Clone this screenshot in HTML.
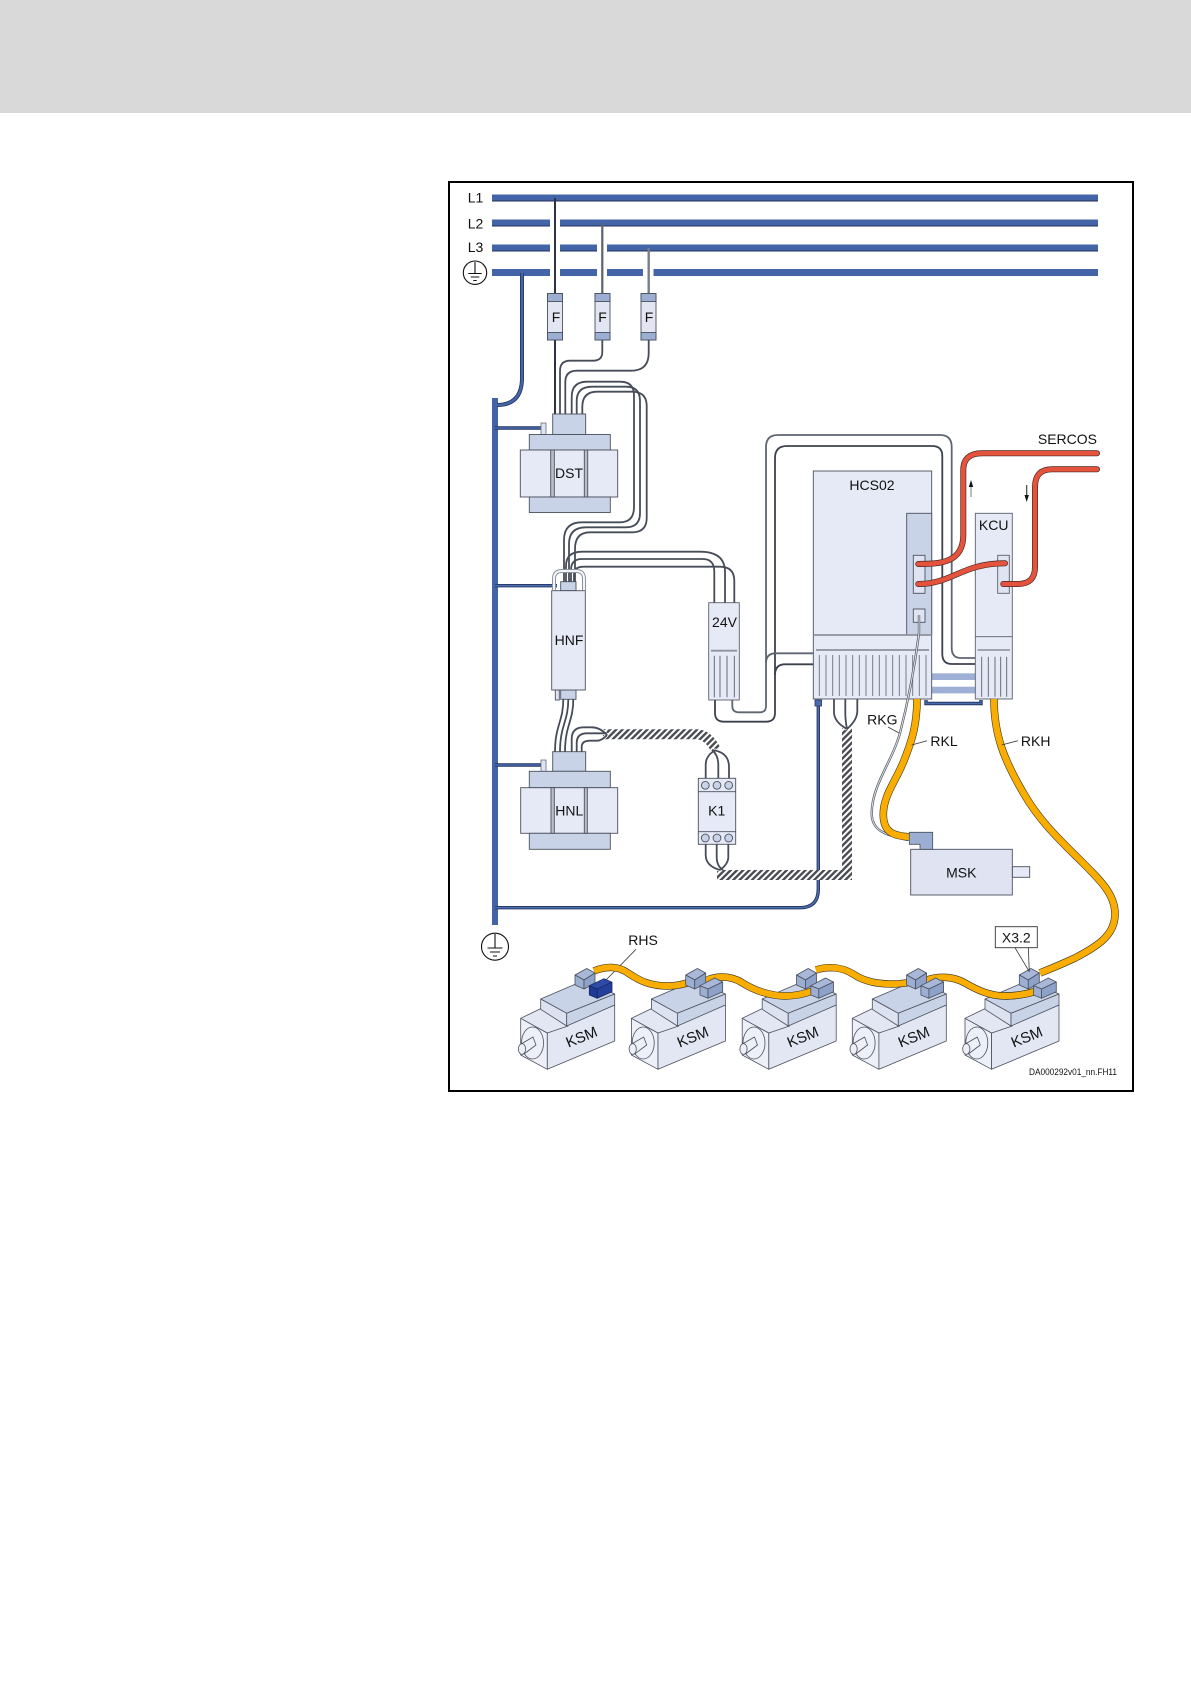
<!DOCTYPE html>
<html><head><meta charset="utf-8"><style>
html,body{margin:0;padding:0;background:#fff}
svg{display:block}
text{font-family:"Liberation Sans",sans-serif;font-size:14px;fill:#111}
.c{text-anchor:middle;dominant-baseline:central}
</style></head><body>
<svg width="1191" height="1684" viewBox="0 0 1191 1684" xmlns="http://www.w3.org/2000/svg">
<defs>
<pattern id="h" width="4.4" height="4.4" patternUnits="userSpaceOnUse" patternTransform="rotate(45)">
<rect width="4.4" height="4.4" fill="#fff"/><rect width="2.4" height="4.4" fill="#4a4d52"/>
</pattern>
<g id="motor" stroke="#4a505c" stroke-width=".8" stroke-linejoin="round">
<polygon points="40.7,98.3 67.3,113 67.3,149.3 40.7,135" fill="#eef0f9"/>
<polygon points="67.3,113 134.7,85 134.7,121 67.3,149.3" fill="#e3e7f4"/>
<polygon points="40.7,98.3 62,88 88,106 67.3,113" fill="#e3e7f4"/>
<ellipse cx="52.5" cy="123" rx="11" ry="16" fill="none"/>
<polygon points="41,124 53,117 56,125 44,134" fill="#eef0f9"/>
<ellipse cx="42" cy="129" rx="3.6" ry="5.4" fill="#eef0f9"/>
<polygon points="60.7,79 105,60 134.7,74 86.7,93.3" fill="#c9d3e8"/>
<polygon points="60.7,79 86.7,93.3 86.7,106 60.7,89.3" fill="#dde2f1"/>
<polygon points="86.7,93.3 134.7,74 134.7,85 86.7,106" fill="#c9d3e8"/>
</g>
<g id="blkA" stroke="#4a505c" stroke-width=".8" stroke-linejoin="round">
<polygon points="95,55 106.7,48.5 115,53 104,60" fill="#a9b7d8"/>
<polygon points="95,55 104,60 104,69 95,65" fill="#9caed2"/>
<polygon points="104,60 115,53 115,63.3 104,69" fill="#8ea1c9"/>
</g>
<g id="blkB" stroke="#4a505c" stroke-width=".8" stroke-linejoin="round">
<polygon points="109.3,65.7 124,58 132,62 117.3,69" fill="#a9b7d8"/>
<polygon points="109.3,65.7 117.3,69 117.3,78.3 109.3,75" fill="#9caed2"/>
<polygon points="117.3,69 132,62 132,71.7 117.3,78.3" fill="#8ea1c9"/>
</g>
<g id="wires" fill="none" stroke-linejoin="round">
<path d="M602.3 340V352Q602.3 360.7 593 360.7H570Q560 360.7 560 371V414"/>
<path d="M648.7 340V353Q648.7 370.7 631 370.7H577Q565.3 370.7 565.3 382V414"/>
<path d="M571.7 414V397Q571.7 381.7 587 381.7H620Q634 381.7 634 395V507Q634 522.3 620 522.3H582Q564 522.3 564 540V582"/>
<path d="M576.7 414V401Q576.7 386.7 592 386.7H626Q640 386.7 640 401V513Q640 527.3 626 527.3H586Q569 527.3 569 544V582"/>
<path d="M582.3 414V407Q582.3 391.7 597 391.7H632Q646.7 391.7 646.7 406V518Q646.7 532.3 632 532.3H590Q575 532.3 575 549V582"/>
<path d="M566 582V566Q566 551.7 582 551.7H700Q725 551.7 725 572V602.7"/>
<path d="M571 582V570Q571 559 582 559H703Q714.3 559 714.3 572V602.7"/>
<path d="M574 582V574Q574 566.7 584 566.7H720Q734.3 566.7 734.3 581V602.7"/>
<path d="M563.3 699C563.3 722 555 725 555 752"/>
<path d="M568.3 699C568.3 722 560 725 560 752"/>
<path d="M573.3 699C573.3 722 565 725 565 752"/>
<path d="M571.7 752V739Q571.7 727.3 584 727.3H592Q600 727.3 607 735"/>
<path d="M576.7 752V743Q576.7 733.3 587 733.3H607"/>
<path d="M581.7 752V747Q581.7 740.7 590 740.7H597Q602 740.7 607 735"/>
<path d="M705.7 778V765Q705.7 755 716 750"/>
<path d="M718.3 778V765Q718.3 755 712 750"/>
<path d="M729 778V767Q729 752 712 750"/>
<path d="M705.7 844V855Q705.7 866 720 870"/>
<path d="M716.7 844V857Q716.7 866 723 870"/>
<path d="M728.3 844V857Q728.3 864 720 870"/>
<path d="M834 699V712Q834 722 847 729"/>
<path d="M845.3 699V713Q845.3 720 847 729"/>
<path d="M857.3 699V711Q857.3 720 847 729"/>
</g>
</defs>

<rect width="1191" height="1684" fill="#fff"/>
<rect width="1191" height="113" fill="#d9d9d9"/>
<rect x="449" y="182" width="684" height="909" fill="#fff" stroke="#000" stroke-width="2"/>

<!-- busbars -->
<g fill="#4464a8">
<rect x="492" y="194.500" width="606" height="7"/>
<rect x="492" y="219.500" width="58" height="7"/><rect x="560" y="219.500" width="538" height="7"/>
<rect x="492" y="244.500" width="58" height="7"/><rect x="560" y="244.500" width="37" height="7"/><rect x="607" y="244.500" width="491" height="7"/>
<rect x="492" y="269" width="58" height="7"/><rect x="560" y="269" width="37" height="7"/><rect x="607" y="269" width="36" height="7"/><rect x="653.500" y="269" width="444.500" height="7"/>
</g>
<g fill="#1f2f5c">
<rect x="492" y="200.500" width="606" height="1"/>
<rect x="492" y="225.500" width="58" height="1"/><rect x="560" y="225.500" width="538" height="1"/>
<rect x="492" y="250.500" width="58" height="1"/><rect x="560" y="250.500" width="37" height="1"/><rect x="607" y="250.500" width="491" height="1"/>
</g>
<text x="475.500" y="197.500" class="c">L1</text>
<text x="475.500" y="223.500" class="c">L2</text>
<text x="475.500" y="247" class="c">L3</text>

<!-- ground symbols -->
<g fill="none" stroke="#111" stroke-width="1.100">
<circle cx="475" cy="272.700" r="11.700"/>
<path d="M475 262V273.500M468.300 273.500H481.700M470.700 277H479.300M473.300 280.500H476.700"/>
<circle cx="495" cy="946.700" r="13.500"/>
<path d="M495 934V948M487.500 948H502.500M490 952H500M493 956H497"/>
</g>

<!-- drops -->
<path d="M555 198V293" stroke="#2d3340" stroke-width="2"/>
<path d="M602.300 223V293" stroke="#5a6270" stroke-width="2.200"/>
<path d="M648.700 248V293" stroke="#777e8a" stroke-width="2.400"/>
<path d="M555 340V414" stroke="#2d3340" stroke-width="2"/>

<!-- PE bus -->
<rect x="492" y="398" width="6" height="527" fill="#4464a8"/>
<path d="M522 273V378Q522 405 497 405" fill="none" stroke="#24345f" stroke-width="4"/>
<path d="M522 273V378Q522 405 497 405" fill="none" stroke="#4464a8" stroke-width="2.400"/>
<g fill="none" stroke="#24345f" stroke-width="3.400">
<path d="M495 428H543"/><path d="M495 585.700H557"/><path d="M495 765H543"/>
<path d="M495 907.700H800Q818.300 907.700 818.300 889V702"/>
</g>
<g fill="none" stroke="#4a6cb0" stroke-width="1.600">
<path d="M495 428H543"/><path d="M495 585.700H557"/><path d="M495 765H543"/>
<path d="M495 907.700H800Q818.300 907.700 818.300 889V702"/>
</g>
<path d="M815 706V700H821.500V706Z" fill="#4a6cb0" stroke="#24345f" stroke-width=".8"/>
<g fill="#dfe3f2" stroke="#666c78" stroke-width=".8">
<rect x="541" y="423" width="5" height="11.500"/>
<rect x="541" y="760" width="5" height="11.500"/>
</g>

<!-- hatch cable -->
<path d="M603 734.300H696Q708 734.300 716 750" fill="none" stroke="url(#h)" stroke-width="10"/>
<path d="M717 875H847V728" fill="none" stroke="url(#h)" stroke-width="10"/>

<!-- wires -->
<use href="#wires" stroke="#fff" stroke-width="3.400"/>
<use href="#wires" stroke="#474d58" stroke-width="1.800"/>

<!-- 24V outputs and loops -->
<g fill="none" stroke="#fff" stroke-width="4">
<path d="M715 700V713Q715 721.700 724 721.700H766Q775 721.700 775 713V458Q775 446 787 446H932Q942.300 446 942.300 456V654Q942.300 664 952 664H975"/>
<path d="M732.300 700V706Q732.300 712.300 739 712.300H760Q766 712.300 766 706V447Q766 435 778 435H940Q951.700 435 951.700 447V648Q951.700 658 961 658H975"/>
</g>
<g fill="none" stroke-width="1.800">
<path d="M715 700V713Q715 721.700 724 721.700H766Q775 721.700 775 713V458Q775 446 787 446H932Q942.300 446 942.300 456V654Q942.300 664 952 664H975" stroke="#3c424d"/>
<path d="M732.300 700V706Q732.300 712.300 739 712.300H760Q766 712.300 766 706V447Q766 435 778 435H940Q951.700 435 951.700 447V648Q951.700 658 961 658H975" stroke="#5f6672"/>
<path d="M775 675Q775 664.300 785 664.300H813.300" stroke="#3c424d"/>
<path d="M766 663Q766 653.300 776 653.300H813.300" stroke="#5f6672"/>
</g>

<!-- fuses -->
<g stroke="#4a505c" stroke-width=".9">
<rect x="547.500" y="293.500" width="15" height="46.500" fill="#e3e6f2"/><rect x="547.500" y="293.500" width="15" height="8" fill="#9caed2"/><rect x="547.500" y="332.500" width="15" height="7.500" fill="#9caed2"/>
<rect x="595" y="293.500" width="15" height="46.500" fill="#e3e6f2"/><rect x="595" y="293.500" width="15" height="8" fill="#9caed2"/><rect x="595" y="332.500" width="15" height="7.500" fill="#9caed2"/>
<rect x="641" y="293.500" width="15" height="46.500" fill="#e3e6f2"/><rect x="641" y="293.500" width="15" height="8" fill="#9caed2"/><rect x="641" y="332.500" width="15" height="7.500" fill="#9caed2"/>
</g>
<text x="556" y="317" class="c">F</text><text x="602.500" y="317" class="c">F</text><text x="649" y="317" class="c">F</text>

<!-- DST -->
<g stroke="#4a505c" stroke-width=".9">
<rect x="552.700" y="414" width="33" height="20.500" fill="#c9d3e8"/>
<rect x="529.300" y="434.500" width="81" height="15.500" fill="#c9d3e8"/>
<rect x="520.300" y="450" width="97.400" height="47" fill="#e6e9f6"/>
<rect x="529.300" y="497" width="81" height="15.500" fill="#c9d3e8"/>
<rect x="550.700" y="450" width="3.600" height="47" fill="#b9bec9"/>
<rect x="584.300" y="450" width="3.400" height="47" fill="#b9bec9"/>
</g>
<text x="569" y="473" class="c">DST</text>

<!-- HNF -->
<path d="M554 590V579Q554 571 562 571H576Q584 571 584 579V590" fill="none" stroke="#8c929e" stroke-width="4"/>
<path d="M554 590V579Q554 571 562 571H576Q584 571 584 579V590" fill="none" stroke="#f4f5fa" stroke-width="2"/>
<g stroke="#4a505c" stroke-width=".9">
<rect x="560.700" y="581.700" width="15.300" height="9" fill="#c9d3e8"/>
<rect x="560.700" y="690" width="15.300" height="9.300" fill="#c9d3e8"/>
<rect x="555.300" y="690" width="4" height="10" fill="#dfe3f2"/>
<rect x="551.700" y="590.700" width="33.600" height="99.300" fill="#e6e9f6"/>
</g>
<text x="569" y="640" class="c">HNF</text>

<!-- 24V -->
<g stroke="#5a606c" stroke-width=".9" fill="none">
<rect x="708.700" y="602.700" width="30.600" height="97.300" fill="#e6e9f6"/>
<path d="M714.300 655.700V697.300M720 655.700V697.300M727 655.700V697.300M734.300 655.700V697.300"/>
</g>
<path d="M711 650.700H737" stroke="#8c929e" stroke-width="1.800"/>
<text x="724.500" y="622" class="c">24V</text>

<!-- HNL -->
<g stroke="#4a505c" stroke-width=".9">
<rect x="552.700" y="751.700" width="33" height="19.600" fill="#c9d3e8"/>
<rect x="529.300" y="771.300" width="81" height="16.400" fill="#c9d3e8"/>
<rect x="520.700" y="787.700" width="97" height="45.600" fill="#e6e9f6"/>
<rect x="529.300" y="833.300" width="81" height="16" fill="#c9d3e8"/>
<rect x="551" y="787.700" width="3.300" height="45.600" fill="#b9bec9"/>
<rect x="584.300" y="787.700" width="3" height="45.600" fill="#b9bec9"/>
</g>
<text x="569.300" y="810.700" class="c">HNL</text>

<!-- K1 -->
<g stroke="#4a505c" stroke-width=".9">
<rect x="698.300" y="778.300" width="37.400" height="66" fill="#e6e9f6"/>
<path d="M698.300 791.700H735.700M698.300 831.700H735.700" fill="none"/>
<g fill="#c9d3e8">
<circle cx="705.300" cy="785.300" r="3.900"/><circle cx="717" cy="785.300" r="3.900"/><circle cx="728.700" cy="785.300" r="3.900"/>
<circle cx="705.300" cy="838" r="3.900"/><circle cx="717" cy="838" r="3.900"/><circle cx="728.700" cy="838" r="3.900"/>
</g>
</g>
<text x="716.700" y="810.700" class="c">K1</text>

<!-- link bars -->
<rect x="931.700" y="673.300" width="43.600" height="6.700" fill="#9fb0d6"/>
<rect x="931.700" y="686.700" width="43.600" height="6.700" fill="#9fb0d6"/>
<path d="M926 700V703.500H981V700" fill="none" stroke="#24345f" stroke-width="3.400"/>
<path d="M926 700V703.500H981V700" fill="none" stroke="#4a6cb0" stroke-width="1.400"/>

<!-- HCS02 -->
<g stroke="#4a505c" stroke-width=".9">
<rect x="813.300" y="471" width="118.400" height="228" fill="#e6e9f6"/>
<rect x="906.700" y="513.300" width="25" height="121.700" fill="#c9d3e8"/>
<rect x="913.300" y="555.300" width="11.700" height="38" fill="#dfe3f2"/>
<rect x="913.300" y="609" width="11.700" height="13.300" fill="#dfe3f2"/>
<path d="M816 650H929" fill="none"/>
</g>
<path d="M819.300 655V696M826 655V696M832.700 655V696M839.300 655V696M846 655V696M852.700 655V696M859.300 655V696M866 655V696M872.700 655V696M879.300 655V696M886 655V696M892.700 655V696M899.300 655V696M906 655V696M912.700 655V696M919.300 655V696M926 655V696" fill="none" stroke="#6a707c" stroke-width=".9"/>
<path d="M813.300 635H931.700" stroke="#8c929e" stroke-width="1.800"/>
<text x="872" y="485" class="c">HCS02</text>

<!-- KCU -->
<g stroke="#5a606c" stroke-width=".9">
<rect x="975.300" y="513.300" width="37" height="185.700" fill="#e6e9f6"/>
<rect x="997.700" y="555.300" width="11.600" height="38" fill="#dfe3f2"/>
<path d="M975.300 636.700H1012.300M977.500 650H1010M981.700 656.700V696.700M988.300 656.700V696.700M995 656.700V696.700M1000.700 656.700V696.700M1006.700 656.700V696.700" fill="none"/>
</g>
<text x="993.700" y="525" class="c">KCU</text>

<!-- SERCOS -->
<g fill="none" stroke-linecap="round">
<g stroke="#4a2a26" stroke-width="6">
<path d="M918.300 564C940 564 963.300 563 963.300 535V470Q963.300 453.300 982 453.300H1097"/>
<path d="M918.300 584C952 584 962 563.300 1005 563.300"/>
<path d="M1003.300 584H1018Q1035 584 1035 567V487Q1035 469.300 1052 469.300H1097"/>
</g>
<g stroke="#e5533d" stroke-width="4.600">
<path d="M918.300 564C940 564 963.300 563 963.300 535V470Q963.300 453.300 982 453.300H1097"/>
<path d="M918.300 584C952 584 962 563.300 1005 563.300"/>
<path d="M1003.300 584H1018Q1035 584 1035 567V487Q1035 469.300 1052 469.300H1097"/>
</g>
</g>
<text x="1097" y="439" text-anchor="end" dominant-baseline="central">SERCOS</text>
<path d="M971 486V497" stroke="#9aa0aa" stroke-width="1.400"/><path d="M971 480L968.800 487H973.200Z" fill="#111"/>
<path d="M1026.700 485V497" stroke="#444" stroke-width="1.200"/><path d="M1026.700 502L1024.500 495H1028.900Z" fill="#111"/>

<!-- RKG -->
<path d="M919 615V633C914 672 908 702 900 733C892 762 872 785 871.700 813C871.500 830 884 835 908 840" fill="none" stroke="#565c66" stroke-width="2.400"/>
<path d="M919 615V633C914 672 908 702 900 733C892 762 872 785 871.700 813C871.500 830 884 835 908 840" fill="none" stroke="#dfe1e6" stroke-width="1"/>

<!-- MSK -->
<g stroke="#4a505c" stroke-width=".9">
<rect x="1012.300" y="866.700" width="17.400" height="10.600" fill="#e6e9f6"/>
<rect x="910.700" y="849.300" width="101.600" height="45.700" fill="#dfe3f2"/>
</g>

<!-- yellow cables -->
<g fill="none">
<g stroke="#3b3520" stroke-width="7.600">
<path d="M917 699C917 725 912 740 905 758C897 780 883 795 883.300 815C883.500 832 893 836 910 837"/>
<path d="M994 699C994 735 1004 760 1024 794C1040 822 1062 842 1082 862C1102 882 1115 895 1115 914C1115 935 1098 946 1075 958C1060 965 1050 969 1040 973"/>
</g>
<g stroke="#f9ad00" stroke-width="6.400">
<path d="M917 699C917 725 912 740 905 758C897 780 883 795 883.300 815C883.500 832 893 836 910 837"/>
<path d="M994 699C994 735 1004 760 1024 794C1040 822 1062 842 1082 862C1102 882 1115 895 1115 914C1115 935 1098 946 1075 958C1060 965 1050 969 1040 973"/>
</g>
</g>
<polygon points="909.300,832.300 932.700,832.300 932.700,849.300 920,849.300 920,844.300 909.300,844.300" fill="#9caed2" stroke="#4a505c" stroke-width=".8"/>
<text x="961.300" y="872.300" class="c">MSK</text>

<g stroke="#333" stroke-width=".8">
<path d="M888 727L899 733M911.700 745L927 740.700M1001.700 745L1018 740.700M636 949.300L606 980"/>
</g>
<text x="882.300" y="719.300" class="c">RKG</text>
<text x="944" y="741" class="c">RKL</text>
<text x="1035.700" y="741" class="c">RKH</text>
<text x="643" y="940" class="c">RHS</text>

<!-- motors -->
<use href="#motor" x="480" y="920"/>
<use href="#motor" x="590.700" y="920"/>
<use href="#motor" x="701.500" y="920"/>
<use href="#motor" x="811.600" y="920"/>
<use href="#motor" x="924.300" y="920"/>
<g style="font-size:15px">
<text class="c" style="font-size:15px" transform="translate(581.700 1037.500) rotate(-22)">KSM</text>
<text class="c" style="font-size:15px" transform="translate(693 1037.500) rotate(-22)">KSM</text>
<text class="c" style="font-size:15px" transform="translate(803 1037.500) rotate(-22)">KSM</text>
<text class="c" style="font-size:15px" transform="translate(914 1037.500) rotate(-22)">KSM</text>
<text class="c" style="font-size:15px" transform="translate(1027 1037.500) rotate(-22)">KSM</text>
</g>

<!-- motor cables -->
<g fill="none">
<g stroke="#3b3520" stroke-width="7.400">
<path d="M594 971C606 966 618 966 628 973C640 981 650 986 668 986C677 986 685 984 693 981"/>
<path d="M705 981C715 976 729 975 741 982C753 990 770 996 785 996C796 996 808 993 818 989"/>
<path d="M816 970C828 966 842 967 853 974C865 982 878 984 893 984C900 984 906 983 912 982"/>
<path d="M927 980C938 976 953 976 965 983C977 990 990 996 1005 996C1016 996 1028 994 1040 990"/>
</g>
<g stroke="#f9ad00" stroke-width="6.200">
<path d="M594 971C606 966 618 966 628 973C640 981 650 986 668 986C677 986 685 984 693 981"/>
<path d="M705 981C715 976 729 975 741 982C753 990 770 996 785 996C796 996 808 993 818 989"/>
<path d="M816 970C828 966 842 967 853 974C865 982 878 984 893 984C900 984 906 983 912 982"/>
<path d="M927 980C938 976 953 976 965 983C977 990 990 996 1005 996C1016 996 1028 994 1040 990"/>
</g>
</g>

<!-- connector blocks -->
<use href="#blkA" x="480" y="920"/>
<g stroke="#1a2a60" stroke-width=".8" stroke-linejoin="round">
<polygon points="589.300,985.700 604,978.700 612,982.300 597.300,989" fill="#2e4ba8"/>
<polygon points="589.300,985.700 597.300,989 597.300,998.300 589.300,995" fill="#1f3a94"/>
<polygon points="597.300,989 612,982.300 612,991.700 597.300,998.300" fill="#253f9c"/>
</g>
<use href="#blkA" x="590.700" y="920"/><use href="#blkB" x="590.700" y="920"/>
<use href="#blkA" x="701.500" y="920"/><use href="#blkB" x="701.500" y="920"/>
<use href="#blkA" x="811.600" y="920"/><use href="#blkB" x="811.600" y="920"/>
<use href="#blkA" x="924.300" y="920"/>
<path d="M1005 996C1016 996 1028 994 1040 990" fill="none" stroke="#3b3520" stroke-width="7.400"/>
<path d="M1005 996C1016 996 1028 994 1040 990" fill="none" stroke="#f9ad00" stroke-width="6.200"/>
<use href="#blkB" x="924.300" y="920"/>

<!-- X3.2 -->
<rect x="995.300" y="926.700" width="42" height="21" fill="#fff" stroke="#333" stroke-width=".9"/>
<text x="1016.300" y="937.700" class="c">X3.2</text>
<path d="M1015 947.700L1029.300 971.700M1028.300 947.700L1029.300 971.700" stroke="#333" stroke-width=".8" fill="none"/>

<text x="1029" y="1072" dominant-baseline="central" style="font-size:9px" textLength="88" lengthAdjust="spacingAndGlyphs">DA000292v01_nn.FH11</text>
</svg>
</body></html>
